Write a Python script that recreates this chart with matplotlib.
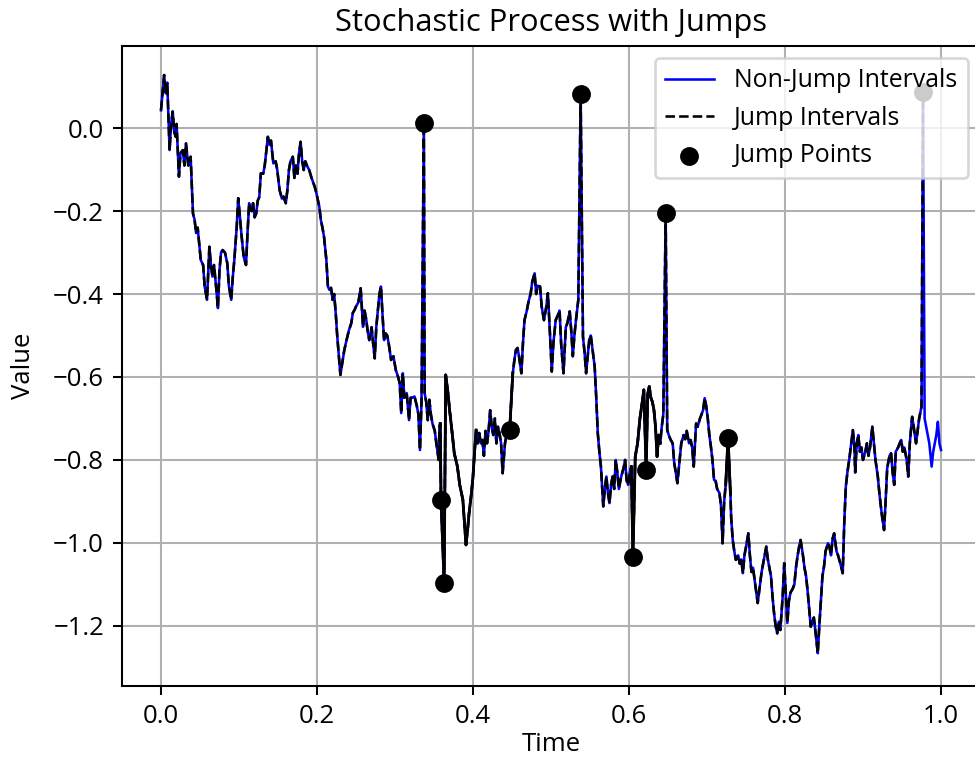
import matplotlib
matplotlib.use("Agg")
import matplotlib.pyplot as plt
import numpy as np

plt.rcParams["font.family"] = ["Open Sans", "DejaVu Sans"]

# path, 10 points per row
time = [
    0.000, 0.004, 0.006, 0.008, 0.011, 0.013, 0.015, 0.017, 0.019, 0.020,
    0.023, 0.025, 0.028, 0.030, 0.032, 0.035, 0.038, 0.041, 0.043, 0.045,
    0.047, 0.051, 0.054, 0.056, 0.059, 0.062, 0.064, 0.066, 0.068, 0.071,
    0.073, 0.075, 0.077, 0.079, 0.082, 0.085, 0.087, 0.090, 0.092, 0.094,
    0.097, 0.099, 0.101, 0.103, 0.106, 0.109, 0.111, 0.113, 0.116, 0.118,
    0.120, 0.122, 0.124, 0.126, 0.128, 0.131, 0.133, 0.137, 0.139, 0.141,
    0.144, 0.147, 0.149, 0.152, 0.155, 0.157, 0.160, 0.162, 0.164, 0.166,
    0.169, 0.171, 0.173, 0.175, 0.177, 0.179, 0.181, 0.183, 0.185, 0.187,
    0.190, 0.193, 0.197, 0.199, 0.201, 0.203, 0.205, 0.207, 0.209, 0.212,
    0.214, 0.216, 0.218, 0.220, 0.222, 0.224, 0.226, 0.228, 0.230, 0.233,
    0.235, 0.238, 0.241, 0.244, 0.246, 0.248, 0.250, 0.253, 0.256, 0.259,
    0.261, 0.263, 0.265, 0.267, 0.270, 0.272, 0.274, 0.276, 0.278, 0.280,
    0.282, 0.284, 0.286, 0.288, 0.290, 0.292, 0.295, 0.298, 0.301, 0.304,
    0.306, 0.308, 0.310, 0.312, 0.315, 0.318, 0.320, 0.322, 0.325, 0.328,
    0.330, 0.332, 0.334, 0.337, 0.338, 0.340, 0.342, 0.344, 0.346, 0.348,
    0.351, 0.353, 0.356, 0.357, 0.358, 0.359, 0.363, 0.365, 0.368, 0.370,
    0.373, 0.376, 0.378, 0.380, 0.383, 0.387, 0.389, 0.391, 0.393, 0.395,
    0.398, 0.400, 0.402, 0.404, 0.406, 0.408, 0.410, 0.412, 0.414, 0.416,
    0.418, 0.420, 0.422, 0.424, 0.426, 0.428, 0.430, 0.432, 0.434, 0.436,
    0.438, 0.441, 0.443, 0.447, 0.451, 0.453, 0.455, 0.457, 0.459, 0.462,
    0.464, 0.466, 0.469, 0.471, 0.474, 0.476, 0.479, 0.481, 0.483, 0.486,
    0.488, 0.491, 0.494, 0.496, 0.498, 0.501, 0.503, 0.506, 0.509, 0.511,
    0.513, 0.516, 0.519, 0.521, 0.524, 0.526, 0.528, 0.530, 0.532, 0.535,
    0.538, 0.541, 0.543, 0.545, 0.547, 0.549, 0.551, 0.553, 0.556, 0.558,
    0.560, 0.562, 0.564, 0.567, 0.569, 0.571, 0.573, 0.575, 0.577, 0.579,
    0.581, 0.583, 0.585, 0.587, 0.590, 0.593, 0.595, 0.597, 0.599, 0.601,
    0.603, 0.605, 0.608, 0.611, 0.614, 0.617, 0.619, 0.622, 0.624, 0.626,
    0.628, 0.630, 0.632, 0.634, 0.636, 0.638, 0.640, 0.642, 0.644, 0.647,
    0.649, 0.651, 0.653, 0.656, 0.658, 0.660, 0.662, 0.665, 0.667, 0.670,
    0.672, 0.674, 0.677, 0.679, 0.681, 0.683, 0.686, 0.688, 0.691, 0.693,
    0.695, 0.697, 0.699, 0.701, 0.703, 0.705, 0.707, 0.709, 0.711, 0.713,
    0.716, 0.718, 0.720, 0.722, 0.724, 0.727, 0.730, 0.731, 0.733, 0.735,
    0.737, 0.740, 0.742, 0.744, 0.746, 0.748, 0.750, 0.753, 0.755, 0.757,
    0.759, 0.761, 0.763, 0.765, 0.768, 0.770, 0.773, 0.776, 0.778, 0.780,
    0.782, 0.784, 0.786, 0.788, 0.790, 0.792, 0.794, 0.797, 0.799, 0.801,
    0.803, 0.805, 0.807, 0.810, 0.812, 0.814, 0.816, 0.818, 0.820, 0.823,
    0.825, 0.827, 0.829, 0.831, 0.833, 0.835, 0.837, 0.840, 0.842, 0.844,
    0.846, 0.848, 0.850, 0.852, 0.855, 0.857, 0.859, 0.861, 0.863, 0.866,
    0.868, 0.871, 0.874, 0.876, 0.878, 0.880, 0.883, 0.885, 0.887, 0.889,
    0.890, 0.892, 0.894, 0.896, 0.898, 0.900, 0.903, 0.905, 0.907, 0.909,
    0.912, 0.914, 0.916, 0.919, 0.921, 0.924, 0.927, 0.929, 0.931, 0.934,
    0.936, 0.938, 0.940, 0.942, 0.945, 0.947, 0.949, 0.951, 0.953, 0.956,
    0.958, 0.960, 0.963, 0.965, 0.968, 0.970, 0.972, 0.975, 0.977, 0.979,
    0.981, 0.983, 0.985, 0.988, 0.990, 0.992, 0.994, 0.996, 0.998, 1.000,
]
value = [
    0.043, 0.128, 0.084, 0.110, -0.053, 0.010, 0.040, -0.010, -0.021, 0.010,
    -0.117, -0.060, -0.053, -0.090, -0.037, -0.090, -0.069, -0.206, -0.220, -0.253,
    -0.240, -0.318, -0.330, -0.382, -0.414, -0.286, -0.330, -0.358, -0.330, -0.390,
    -0.434, -0.342, -0.300, -0.294, -0.300, -0.326, -0.380, -0.414, -0.360, -0.318,
    -0.240, -0.169, -0.210, -0.254, -0.310, -0.330, -0.250, -0.181, -0.200, -0.181,
    -0.215, -0.206, -0.175, -0.166, -0.109, -0.110, -0.090, -0.021, -0.040, -0.030,
    -0.085, -0.080, -0.100, -0.149, -0.170, -0.165, -0.181, -0.150, -0.101, -0.080,
    -0.069, -0.120, -0.090, -0.110, -0.060, -0.033, -0.080, -0.101, -0.080, -0.090,
    -0.101, -0.120, -0.141, -0.155, -0.173, -0.190, -0.222, -0.240, -0.262, -0.318,
    -0.382, -0.390, -0.385, -0.414, -0.400, -0.446, -0.503, -0.550, -0.595, -0.560,
    -0.535, -0.510, -0.487, -0.470, -0.445, -0.439, -0.430, -0.420, -0.386, -0.479,
    -0.440, -0.460, -0.490, -0.511, -0.480, -0.520, -0.555, -0.480, -0.439, -0.400,
    -0.382, -0.450, -0.511, -0.495, -0.500, -0.520, -0.559, -0.550, -0.583, -0.600,
    -0.615, -0.687, -0.591, -0.650, -0.639, -0.704, -0.650, -0.650, -0.647, -0.670,
    -0.690, -0.776, -0.660, 0.012, -0.639, -0.660, -0.704, -0.655, -0.690, -0.712,
    -0.730, -0.760, -0.800, -0.720, -0.712, -0.896, -1.097, -0.595, -0.640, -0.680,
    -0.730, -0.784, -0.800, -0.816, -0.860, -0.896, -0.950, -1.005, -0.970, -0.928,
    -0.880, -0.840, -0.780, -0.728, -0.760, -0.735, -0.760, -0.752, -0.790, -0.730,
    -0.760, -0.730, -0.680, -0.720, -0.740, -0.700, -0.760, -0.720, -0.736, -0.760,
    -0.832, -0.760, -0.740, -0.728, -0.591, -0.560, -0.535, -0.530, -0.550, -0.591,
    -0.520, -0.463, -0.440, -0.420, -0.398, -0.370, -0.350, -0.400, -0.380, -0.382,
    -0.430, -0.463, -0.430, -0.398, -0.470, -0.587, -0.520, -0.463, -0.450, -0.440,
    -0.520, -0.591, -0.480, -0.470, -0.442, -0.490, -0.550, -0.500, -0.463, -0.414,
    0.082, -0.503, -0.540, -0.591, -0.550, -0.511, -0.500, -0.530, -0.575, -0.650,
    -0.736, -0.780, -0.816, -0.912, -0.870, -0.840, -0.880, -0.904, -0.860, -0.840,
    -0.870, -0.800, -0.830, -0.870, -0.840, -0.820, -0.800, -0.850, -0.860, -0.830,
    -0.816, -1.034, -0.792, -0.760, -0.700, -0.660, -0.631, -0.824, -0.640, -0.623,
    -0.650, -0.660, -0.680, -0.720, -0.792, -0.740, -0.760, -0.720, -0.690, -0.205,
    -0.728, -0.740, -0.750, -0.760, -0.808, -0.830, -0.856, -0.800, -0.760, -0.740,
    -0.750, -0.730, -0.760, -0.752, -0.770, -0.816, -0.712, -0.720, -0.700, -0.690,
    -0.680, -0.651, -0.670, -0.700, -0.740, -0.768, -0.800, -0.848, -0.850, -0.870,
    -0.880, -0.912, -1.001, -0.900, -0.860, -0.747, -0.880, -0.940, -0.993, -1.020,
    -1.041, -1.030, -1.050, -1.040, -1.073, -1.030, -1.010, -0.977, -1.030, -1.070,
    -1.060, -1.089, -1.120, -1.145, -1.100, -1.070, -1.040, -1.009, -1.040, -1.060,
    -1.080, -1.129, -1.170, -1.200, -1.218, -1.190, -1.210, -1.130, -1.049, -1.120,
    -1.193, -1.140, -1.120, -1.110, -1.100, -1.060, -1.033, -1.010, -0.993, -1.030,
    -1.060, -1.080, -1.116, -1.160, -1.202, -1.190, -1.180, -1.230, -1.266, -1.200,
    -1.140, -1.080, -1.057, -1.020, -1.001, -1.010, -1.030, -0.990, -0.977, -1.020,
    -1.030, -1.050, -1.073, -0.950, -0.864, -0.830, -0.790, -0.760, -0.728, -0.770,
    -0.830, -0.760, -0.740, -0.780, -0.770, -0.800, -0.780, -0.760, -0.790, -0.770,
    -0.720, -0.760, -0.800, -0.840, -0.880, -0.930, -0.969, -0.900, -0.820, -0.790,
    -0.784, -0.830, -0.860, -0.780, -0.770, -0.760, -0.752, -0.780, -0.770, -0.800,
    -0.840, -0.760, -0.696, -0.720, -0.760, -0.730, -0.700, -0.672, 0.087, -0.700,
    -0.720, -0.740, -0.760, -0.816, -0.780, -0.760, -0.740, -0.708, -0.760, -0.776,
]

jump_time = [0.337, 0.359, 0.363, 0.447, 0.538, 0.605, 0.622, 0.647, 0.727, 0.977]
jump_value = [0.012, -0.896, -1.097, -0.728, 0.082, -1.034, -0.824, -0.205, -0.747, 0.087]

# stretches around some jumps that show up as solid black in the reference
solid_spans = [(0.358, 0.404), (0.443, 0.451), (0.603, 0.640), (0.724, 0.730)]

t = np.array(time)
x = np.array(value)

dpi = 185
fig = plt.figure(figsize=(975 / dpi, 758 / dpi), dpi=dpi)
ax = fig.add_axes([122 / 975, 72 / 758, 858 / 975, 640 / 758])

ax.plot(t, x, color="blue", linewidth=1, label="Non-Jump Intervals")
in_jumps = t <= max(jump_time)
ax.plot(t[in_jumps], x[in_jumps], "k--", linewidth=1, label="Jump Intervals")
for start, end in solid_spans:
    m = (t >= start) & (t <= end)
    ax.plot(t[m], x[m], color="black", linewidth=1.1)
ax.scatter(jump_time, jump_value, color="black", s=40, zorder=3, label="Jump Points")

ax.set_xlim(-0.05, 1.05)
ax.set_ylim(-1.345, 0.198)
ax.set_title("Stochastic Process with Jumps")
ax.set_xlabel("Time", labelpad=1)
ax.set_ylabel("Value", labelpad=6.5)
ax.grid(True)
ax.legend(loc="upper right", fontsize=9.7)

fig.savefig("out.png", dpi=dpi)
